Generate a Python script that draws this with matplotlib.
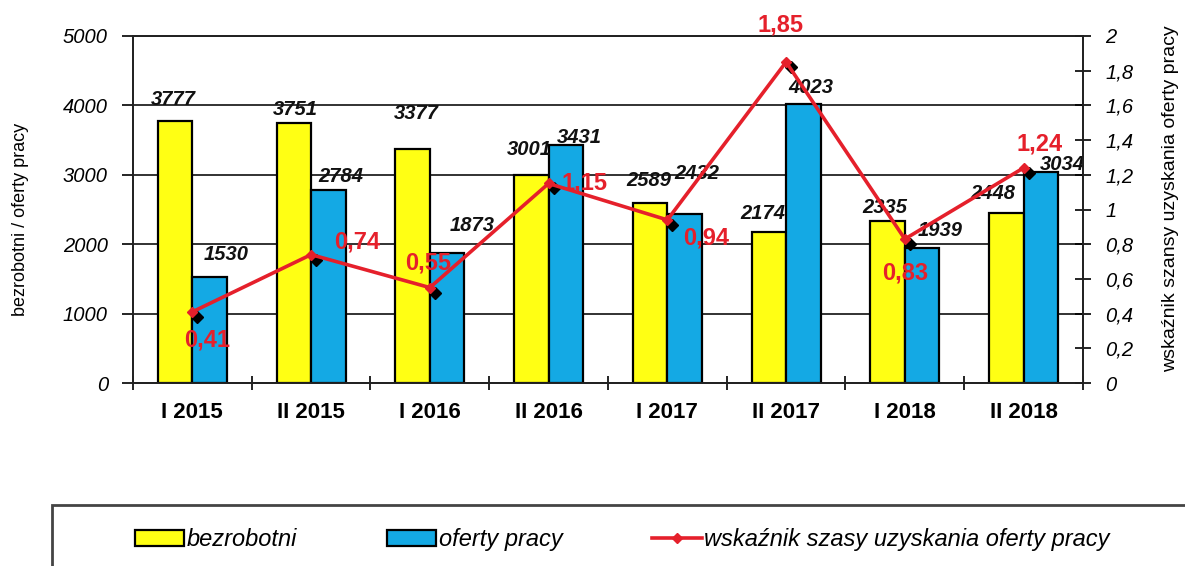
import matplotlib
matplotlib.use('Agg')
import matplotlib.pyplot as plt
import matplotlib.transforms as mtransforms
from matplotlib.patches import Rectangle
import numpy as np

plt.rcParams['font.family'] = ['Liberation Sans', 'DejaVu Sans']

# dane
okresy = ['I 2015', 'II 2015', 'I 2016', 'II 2016', 'I 2017', 'II 2017', 'I 2018', 'II 2018']
bezrobotni = [3777, 3751, 3377, 3001, 2589, 2174, 2335, 2448]
oferty = [1530, 2784, 1873, 3431, 2432, 4023, 1939, 3034]
wskaznik = [0.41, 0.74, 0.55, 1.15, 0.94, 1.85, 0.83, 1.24]
wskaznik_txt = ['0,41', '0,74', '0,55', '1,15', '0,94', '1,85', '0,83', '1,24']

# przesuniecia etykiet (piksele)
off_bez = [(-2, 21), (1, 13), (4, 35), (-2, 25), (-1, 23), (-6, 19), (-3, 13), (-14, 20)]
off_of = [(17, 22), (13, 13), (25, 28), (14, 7), (12, 41), (8, 16), (18, 18), (22, 8)]
off_wsk = [(15, -28), (46, 13), (-2, 25), (36, 0), (39, -18), (-6, 37), (0, -34), (16, 24)]

YELLOW = '#FFFF14'
BLUE = '#14A9E4'
RED = '#E5202B'

fig = plt.figure(figsize=(11.85, 5.66), dpi=100)
ax = fig.add_axes([0.1122, 0.3233, 0.8017, 0.6131])
ax2 = ax.twinx()

x = np.arange(len(okresy))
w = 0.29
b1 = ax.bar(x - w/2, bezrobotni, w, color=YELLOW, edgecolor='black', linewidth=1.6, zorder=3, label='bezrobotni')
b2 = ax.bar(x + w/2, oferty, w, color=BLUE, edgecolor='black', linewidth=1.6, zorder=3, label='oferty pracy')

for bar, v, (dx, dy) in zip(b1, bezrobotni, off_bez):
    ax.annotate(str(v), (bar.get_x() + bar.get_width()/2, v), xytext=(dx, dy),
                textcoords='offset pixels', ha='center', va='center',
                fontsize=14.5, fontweight='bold', fontstyle='italic', color='#111111', zorder=5)
for bar, v, (dx, dy) in zip(b2, oferty, off_of):
    ax.annotate(str(v), (bar.get_x() + bar.get_width()/2, v), xytext=(dx, dy),
                textcoords='offset pixels', ha='center', va='center',
                fontsize=14.5, fontweight='bold', fontstyle='italic', color='#111111', zorder=5)

ax.set_xlim(-0.5, len(okresy) - 0.5)
ax.set_ylim(0, 5000)
ax.set_yticks(range(0, 5001, 1000))
ax.set_yticklabels([str(t) for t in range(0, 5001, 1000)], fontsize=14.5, fontstyle='italic')
ax.grid(axis='y', color='#222222', linewidth=1.3, zorder=0)
ax.set_axisbelow(True)
ax.set_xticks(x)
ax.set_xticklabels(okresy, fontsize=16, fontweight='bold')
ax.set_xticks(np.arange(-0.5, len(okresy)), minor=True)
ax.tick_params(axis='x', which='major', length=0, pad=14)
ax.tick_params(axis='x', which='minor', direction='inout', length=10, width=1.2)
ax.tick_params(axis='y', direction='out', length=8, width=1.2, pad=10)
ax.set_ylabel('bezrobotni / oferty pracy', fontsize=13)
ax.yaxis.set_label_coords(-0.109, 0.47)
for s in ['left', 'bottom', 'right', 'top']:
    ax.spines[s].set_linewidth(1.3)
    ax.spines[s].set_color('#222222')

# wskaznik
shadow = mtransforms.offset_copy(ax2.transData, fig=fig, x=5, y=-5, units='dots')
ax2.plot(x, wskaznik, linestyle='none', marker='D', markersize=6, color='black', transform=shadow, zorder=3)
ax2.plot(x, wskaznik, color=RED, linewidth=2.6, marker='D', markersize=5, zorder=4,
         label='wskaźnik szasy uzyskania oferty pracy')
for xi, v, t, (dx, dy) in zip(x, wskaznik, wskaznik_txt, off_wsk):
    ax2.annotate(t, (xi, v), xytext=(dx, dy), textcoords='offset pixels', ha='center', va='center',
                 fontsize=17, fontweight='bold', color=RED, zorder=6)

ax2.set_ylim(0, 2)
r_ticks = np.arange(0, 2.01, 0.2)
ax2.set_yticks(r_ticks)
ax2.set_yticklabels([('%g' % round(t, 1)).replace('.', ',') for t in r_ticks], fontsize=14.5, fontstyle='italic')
ax2.tick_params(axis='y', direction='inout', length=12, width=1.2, pad=10)
ax2.set_ylabel('wskaźnik szansy uzyskania oferty pracy', fontsize=14, rotation=90)
ax2.yaxis.set_label_coords(1.083, 0.53)
for s in ['left', 'bottom', 'right', 'top']:
    ax2.spines[s].set_linewidth(1.3)
    ax2.spines[s].set_color('#222222')

# legenda
fig.patches.append(Rectangle((0.0439, -0.05), 1.0, 0.1578, transform=fig.transFigure,
                             facecolor='white', edgecolor='#444444', linewidth=2))
handles = [b1, b2, ax2.get_lines()[1]]
leg = fig.legend(handles, [h.get_label() for h in handles], loc='center', bbox_to_anchor=(0.525, 0.046),
                 ncol=3, frameon=False, handlelength=2.1, handletextpad=0.1, columnspacing=3.8,
                 prop={'size': 17, 'style': 'italic'})

plt.savefig('out.png', dpi=100)
